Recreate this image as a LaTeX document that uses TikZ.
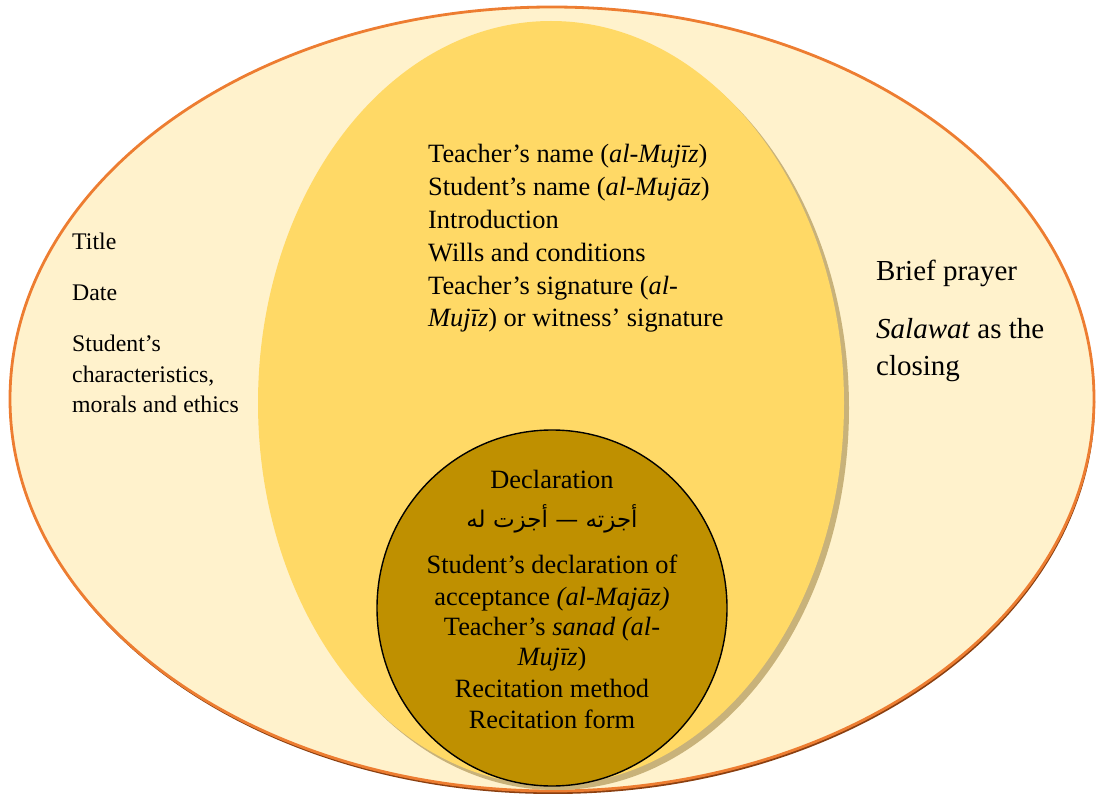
\documentclass[tikz,border=0pt]{standalone}
\usepackage{fontspec}
\setmainfont{Liberation Serif}
\newfontfamily\arabicfont[Script=Arabic]{DejaVu Sans}
\TeXXeTstate=1
\definecolor{outerfill}{HTML}{FFF2CC}
\definecolor{outerline}{HTML}{ED7D31}
\definecolor{outershadow}{HTML}{8A3F10}
\definecolor{midfill}{HTML}{FFD966}
\definecolor{midshadow}{HTML}{C8B27A}
\definecolor{innerfill}{HTML}{BF9000}
\tikzset{
  txt/.style={inner sep=0pt, anchor=base west},
  ctxt/.style={inner sep=0pt, anchor=base},
  leftfont/.style={font=\fontsize{23.8}{30}\selectfont},
  midfont/.style={font=\fontsize{26.4}{33}\selectfont},
  rightfont/.style={font=\fontsize{29}{36}\selectfont},
}
\begin{document}
\begin{tikzpicture}[x=1pt,y=-1pt]
\useasboundingbox (0,0) rectangle (1104,794);
% outer ellipse with shadow
\fill[outershadow] (553,402) ellipse [x radius=542pt, y radius=392pt];
\draw[outerline, fill=outerfill, line width=2.8pt] (552,399) ellipse [x radius=542pt, y radius=392pt];
% middle ellipse with shadow
\fill[midshadow] (556,408) ellipse [x radius=293pt, y radius=382pt];
\fill[midfill] (551,403) ellipse [x radius=293pt, y radius=382pt];
% inner ellipse
\draw[black, fill=innerfill, line width=1.4pt] (552,608) ellipse [x radius=175pt, y radius=178pt];

% left text
\node[txt,leftfont] (l1) at (72,250) {Title};
\node[txt,leftfont] (l2) at (72,301) {Date};
\node[txt,leftfont] (l3) at (72,352) {Student’s};
\node[txt,leftfont] (l4) at (72,383) {characteristics,};
\node[txt,leftfont] (l5) at (72,413) {morals and ethics};

% middle text
\node[txt,midfont] (m1) at (428,163) {Teacher’s name (\textit{al-Mujīz})};
\node[txt,midfont] (m2) at (428,196) {Student’s name (\textit{al-Mujāz})};
\node[txt,midfont] (m3) at (428,229) {Introduction};
\node[txt,midfont] (m4) at (428,262) {Wills and conditions};
\node[txt,midfont] (m5) at (428,295) {Teacher’s signature (\textit{al-}};
\node[txt,midfont] (m6) at (428,327) {\textit{Mujīz}) or witness’ signature};

% right text
\node[txt,rightfont] (r1) at (876,281) {Brief prayer};
\node[txt,rightfont] (r2) at (876,339) {\textit{Salawat} as the};
\node[txt,rightfont] (r3) at (876,376) {closing};

% inner text
\node[ctxt,midfont] (i1) at (552,488) {Declaration};
\node[ctxt,font=\fontsize{23}{28}\selectfont] (i2) at (552,527) {\arabicfont\beginR أجزته — أجزت له\endR};
\node[ctxt,midfont] (i3) at (552,573) {Student’s declaration of};
\node[ctxt,midfont] (i4) at (552,605) {acceptance \textit{(al-Majāz)}};
\node[ctxt,midfont] (i5) at (552,635) {Teacher’s \textit{sanad (al-}};
\node[ctxt,midfont] (i6) at (552,665) {\textit{Mujīz})};
\node[ctxt,midfont] (i7) at (552,697) {Recitation method};
\node[ctxt,midfont] (i8) at (552,728) {Recitation form};
\end{tikzpicture}
\end{document}
